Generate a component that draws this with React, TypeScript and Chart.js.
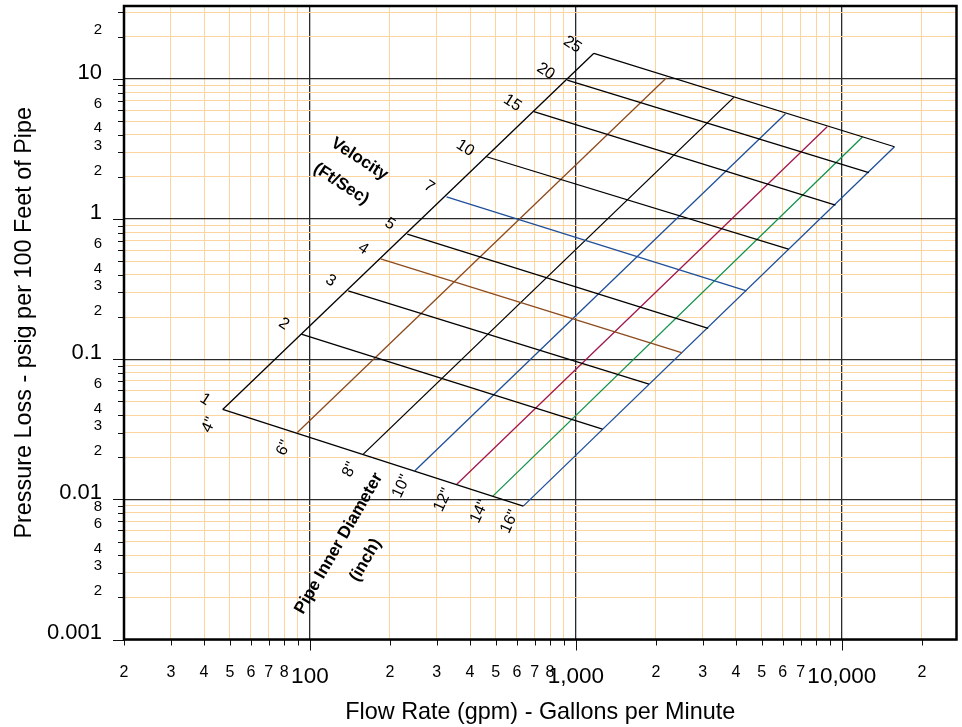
import React, { useEffect, useRef } from 'react';
import { Chart, registerables } from 'chart.js';

Chart.register(...registerables);

const velocities = [1, 2, 3, 4, 5, 7, 10, 15, 20, 25];
// each velocity line runs from the 4" pipe line to the 16" pipe line
const velStartFlow = [47.0, 92.8, 139.3, 184.5, 232.4, 326.5, 461.7, 695.3, 928.4, 1169];
const velStartLoss = [0.04385, 0.1512, 0.3082, 0.5215, 0.7825, 1.444, 2.788, 5.843, 9.837, 15.26];
const velEndFlow = [634.4, 1260, 1884, 2512, 3146, 4382, 6304, 9469, 12640, 15780];
const velEndLoss = [0.008949, 0.03172, 0.06649, 0.1112, 0.1661, 0.3082, 0.6114, 1.26, 2.144, 3.286];

const pipeSizes = ['4"', '6"', '8"', '10"', '12"', '14"', '16"'];
// each pipe line runs from 1 ft/s to 25 ft/s
const pipeLowFlow = [47.0, 89.7, 158.8, 248.2, 356.0, 487.5, 634.4];
const pipeLowLoss = [0.04385, 0.03005, 0.02104, 0.01599, 0.01278, 0.01055, 0.008949];
const pipeHighFlow = [1169, 2193, 3926, 6142, 8813, 11960, 15780];
const pipeHighLoss = [15.26, 10.21, 7.4, 5.653, 4.565, 3.855, 3.286];

const xTicks = [20, 30, 40, 50, 60, 70, 80, 90, 100, 200, 300, 400, 500, 600, 700, 800, 900,
  1000, 2000, 3000, 4000, 5000, 6000, 7000, 8000, 9000, 10000, 20000];
const xTickLabels = ['2', '3', '4', '5', '6', '7', '8', '', '100', '2', '3', '4', '5', '6', '7', '8', '',
  '1,000', '2', '3', '4', '5', '6', '7', '', '', '10,000', '2'];

const yTicks = [0.001, 0.002, 0.003, 0.004, 0.005, 0.006, 0.007, 0.008, 0.009,
  0.01, 0.02, 0.03, 0.04, 0.05, 0.06, 0.07, 0.08, 0.09,
  0.1, 0.2, 0.3, 0.4, 0.5, 0.6, 0.7, 0.8, 0.9,
  1, 2, 3, 4, 5, 6, 7, 8, 9, 10, 20, 30];
const yTickLabels = ['0.001', '2', '3', '4', '', '6', '', '8', '',
  '0.01', '2', '3', '4', '', '6', '', '', '',
  '0.1', '2', '3', '4', '', '6', '', '', '',
  '1', '2', '3', '4', '', '6', '', '', '', '10', '2', ''];

// ---- Styles ----
const FONT = '"Liberation Sans", Arial, Helvetica, sans-serif';
const BROWN = '#8c4b1e';
const BLUE = '#1f4f9a';
const CRIMSON = '#a0174f';
const GREEN = '#12924a';
const velColors = ['#000', '#000', '#000', BROWN, '#000', BLUE, '#000', '#000', '#000', '#000'];
const pipeColors = ['#000', BROWN, '#000', BLUE, CRIMSON, GREEN, BLUE];
const MAJOR_GRID = '#2a2a2a';
const MINOR_GRID = '#fbd49e';

const isDecade = (v: number | undefined) => {
  if (v === undefined || v === null || v <= 0) return false;
  const l = Math.log10(v);
  return Math.abs(l - Math.round(l)) < 1e-9;
};

const decorPlugin = {
  id: 'nomoDecor',
  afterDatasetsDraw(chart: any) {
    const { ctx, chartArea: a, scales } = chart;
    const xs = scales.x;
    const ys = scales.y;
    ctx.save();
    // tick marks
    ctx.strokeStyle = '#111';
    ctx.lineWidth = 1;
    ctx.beginPath();
    xTicks.forEach((v) => {
      const px = Math.round(xs.getPixelForValue(v)) + 0.5;
      const len = isDecade(v) ? 11 : 6;
      ctx.moveTo(px, a.bottom);
      ctx.lineTo(px, a.bottom + len);
    });
    yTicks.forEach((v) => {
      const py = Math.round(ys.getPixelForValue(v)) + 0.5;
      const len = isDecade(v) ? 11 : 6;
      ctx.moveTo(a.left - len, py);
      ctx.lineTo(a.left, py);
    });
    ctx.stroke();
    // plot frame
    ctx.strokeStyle = '#000';
    ctx.lineWidth = 2.5;
    ctx.strokeRect(a.left, a.top, a.right - a.left, a.bottom - a.top);

    const drawRot = (text: string, x: number, y: number, ang: number, font: string) => {
      ctx.save();
      ctx.translate(x, y);
      ctx.rotate((ang * Math.PI) / 180);
      ctx.font = font;
      ctx.fillStyle = '#000';
      ctx.textAlign = 'center';
      ctx.textBaseline = 'middle';
      ctx.fillText(text, 0, 0);
      ctx.restore();
    };

    // velocity numbers at the 4" end of each velocity line
    velocities.forEach((v, i) => {
      const px = xs.getPixelForValue(velStartFlow[i]);
      const py = ys.getPixelForValue(velStartLoss[i]);
      const s = String(v);
      const dx = s.length > 1 ? -21.5 : -17.5;
      const dy = s.length > 1 ? -8.7 : -10;
      drawRot(s, px + dx, py + dy, 33, `16px ${FONT}`);
    });
    // pipe sizes at the 1 ft/s end of each pipe line
    pipeSizes.forEach((p, i) => {
      const px = xs.getPixelForValue(pipeLowFlow[i]);
      const py = ys.getPixelForValue(pipeLowLoss[i]);
      drawRot(p, px - 13.5, py + 15.5, -65, `16px ${FONT}`);
    });
    // group captions
    const vx = xs.getPixelForValue(velStartFlow[6]);
    const vy = ys.getPixelForValue(velStartLoss[6]);
    drawRot('Velocity', vx - 127, vy + 2.3, 33, `bold 17px ${FONT}`);
    drawRot('(Ft/Sec)', vx - 145.3, vy + 27.3, 33, `bold 17px ${FONT}`);
    const qx = xs.getPixelForValue(pipeLowFlow[2]);
    const qy = ys.getPixelForValue(pipeLowLoss[2]);
    drawRot('Pipe Inner Diameter', qx - 24.4, qy + 89.3, -60, `bold 17px ${FONT}`);
    drawRot('(inch)', qx + 2.3, qy + 106, -60, `bold 17px ${FONT}`);
    ctx.restore();
  },
};

export default function App() {
  const ref = useRef<HTMLCanvasElement | null>(null);

  useEffect(() => {
    if (!ref.current) return;
    Chart.defaults.font.family = FONT;
    Chart.defaults.color = '#000';

    const datasets: any[] = [];
    velocities.forEach((v, i) => {
      datasets.push({
        label: `${v} ft/s`,
        data: [
          { x: velStartFlow[i], y: velStartLoss[i] },
          { x: velEndFlow[i], y: velEndLoss[i] },
        ],
        borderColor: velColors[i],
        backgroundColor: velColors[i],
        borderWidth: 1.3,
        pointRadius: 0,
        showLine: true,
        fill: false,
      });
    });
    pipeSizes.forEach((p, i) => {
      datasets.push({
        label: p,
        data: [
          { x: pipeLowFlow[i], y: pipeLowLoss[i] },
          { x: pipeHighFlow[i], y: pipeHighLoss[i] },
        ],
        borderColor: pipeColors[i],
        backgroundColor: pipeColors[i],
        borderWidth: 1.3,
        pointRadius: 0,
        showLine: true,
        fill: false,
      });
    });

    const gridColor = (c: any) => (isDecade(c.tick?.value) ? MAJOR_GRID : MINOR_GRID);
    const gridWidth = (c: any) => (isDecade(c.tick?.value) ? 1.3 : 1);
    const xTickFont = (c: any) => ({ family: FONT, size: isDecade(c.tick?.value) ? 22.5 : 16 });
    const yTickFont = (c: any) => ({ family: FONT, size: isDecade(c.tick?.value) ? 22 : 15 });

    const chart = new Chart(ref.current, {
      type: 'scatter',
      data: { datasets },
      plugins: [decorPlugin],
      options: {
        responsive: false,
        animation: false,
        maintainAspectRatio: false,
        layout: { padding: { top: 6, right: 5.5, left: 0, bottom: 0 } },
        plugins: { legend: { display: false }, tooltip: { enabled: false } },
        elements: { line: { tension: 0 } },
        scales: {
          x: {
            type: 'logarithmic',
            min: 20,
            max: 27000,
            bounds: 'data',
            afterBuildTicks: (s: any) => {
              s.ticks = xTicks.map((v) => ({ value: v, major: isDecade(v) }));
            },
            afterFit: (s: any) => {
              s.height = 87.5;
              s.paddingLeft = 0;
              s.paddingRight = 0;
            },
            border: { display: false },
            grid: { color: gridColor, lineWidth: gridWidth, drawTicks: false },
            ticks: {
              autoSkip: false,
              maxRotation: 0,
              minRotation: 0,
              padding: 23.5,
              color: '#000',
              font: xTickFont,
              callback: (_v: any, i: number) => xTickLabels[i],
            },
            title: {
              display: true,
              text: 'Flow Rate (gpm) - Gallons per Minute',
              color: '#000',
              font: { family: FONT, size: 23.4 },
              padding: { top: 0, bottom: 0 },
            },
          },
          y: {
            type: 'logarithmic',
            min: 0.001,
            max: 33.2,
            bounds: 'data',
            afterBuildTicks: (s: any) => {
              s.ticks = yTicks.map((v) => ({ value: v, major: isDecade(v) }));
            },
            afterFit: (s: any) => {
              s.width = 124;
              s.paddingTop = 0;
              s.paddingBottom = 0;
            },
            border: { display: false },
            grid: { color: gridColor, lineWidth: gridWidth, drawTicks: false },
            ticks: {
              autoSkip: false,
              padding: 22,
              labelOffset: -6.5,
              color: '#000',
              font: yTickFont,
              callback: (_v: any, i: number) => yTickLabels[i],
            },
            title: {
              display: true,
              text: 'Pressure Loss - psig per 100 Feet of Pipe',
              color: '#000',
              font: { family: FONT, size: 23.4 },
              padding: { top: 10.5, bottom: 0 },
            },
          },
        },
      } as any,
    });

    return () => chart.destroy();
  }, []);

  return (
    <div style={{ position: 'fixed', left: 0, top: 0, width: 962, height: 727, background: '#fff' }}>
      <canvas ref={ref} width={962} height={727} style={{ display: 'block' }} />
    </div>
  );
}
